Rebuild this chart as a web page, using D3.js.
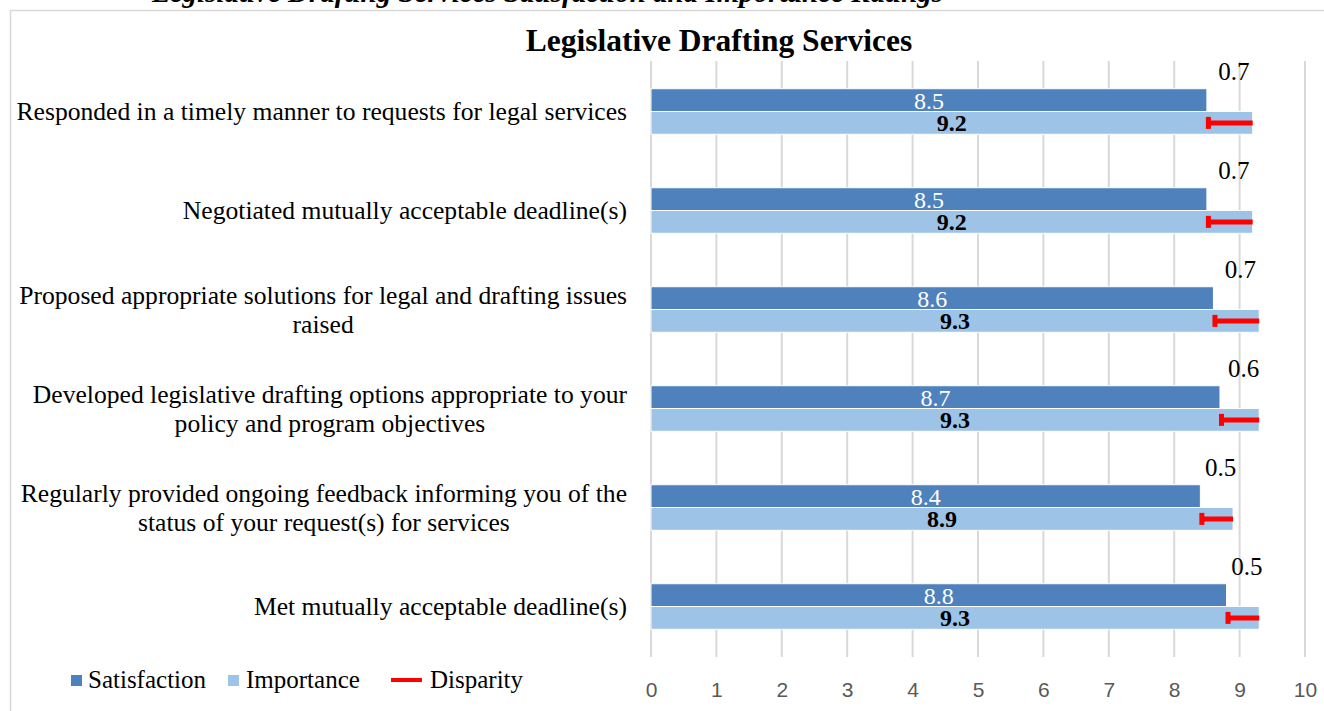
<!DOCTYPE html>
<html>
<head>
<meta charset="utf-8">
<script src="https://cdn.jsdelivr.net/npm/d3@7"></script>
<style>
  html, body { margin: 0; padding: 0; background: #ffffff; }
  svg { display: block; }
</style>
</head>
<body>
<svg id="chart" width="1324" height="711"></svg>
<script>
// ---------- data ----------
const categories = [
  "Responded in a timely manner to requests for legal services",
  "Negotiated mutually acceptable deadline(s)",
  "Proposed appropriate solutions for legal and drafting issues\nraised",
  "Developed legislative drafting options appropriate to your\npolicy and program objectives",
  "Regularly provided ongoing feedback informing you of the\nstatus of your request(s) for services",
  "Met mutually acceptable deadline(s)"
];
const satisfaction = [8.5, 8.5, 8.6, 8.7, 8.4, 8.8];
const importance   = [9.2, 9.2, 9.3, 9.3, 8.9, 9.3];
const disparity    = [0.7, 0.7, 0.7, 0.6, 0.5, 0.5];
const xTicks = [0, 1, 2, 3, 4, 5, 6, 7, 8, 9, 10];
const seriesNames = ["Satisfaction", "Importance", "Disparity"];
const chartTitle = "Legislative Drafting Services";
const captionText = "Legislative Drafting Services Satisfaction and Importance Ratings";

// ---------- styles ----------
const serif = "'Liberation Serif', 'Times New Roman', serif";
const sans = "'Liberation Sans', Arial, sans-serif";
const colSat = "#4f81bd";
const colImp = "#9dc3e6";
const colDisp = "#ff0000";
const gridCol = "#d9d9d9";

const svg = d3.select("#chart");

// caption cut at top of the image (as in the reference)
svg.append("text")
  .attr("x", 152).attr("y", 2)
  .attr("font-family", serif).attr("font-size", 29)
  .attr("font-weight", "bold").attr("font-style", "italic")
  .attr("fill", "#000")
  .text(captionText);

// chart frame
svg.append("rect")
  .attr("x", 10.5).attr("y", 10.5)
  .attr("width", 1330).attr("height", 720)
  .attr("fill", "none").attr("stroke", gridCol).attr("stroke-width", 1.5);

// title
svg.append("text")
  .attr("x", 719).attr("y", 51)
  .attr("text-anchor", "middle")
  .attr("font-family", serif).attr("font-size", 31.5).attr("font-weight", "bold")
  .attr("fill", "#000")
  .text(chartTitle);

// ---------- scales ----------
const x = d3.scaleLinear().domain([0, 10]).range([651, 1305]);
const y = d3.scaleBand().domain(d3.range(categories.length))
  .range([61, 657]).paddingInner(0.54).paddingOuter(0.28);
const sub = d3.scaleBand().domain(["sat", "imp"]).range([0, y.bandwidth()]);

// gridlines
svg.append("g").selectAll("line").data(xTicks).join("line")
  .attr("x1", d => x(d)).attr("x2", d => x(d))
  .attr("y1", 61).attr("y2", 657)
  .attr("stroke", gridCol).attr("stroke-width", 2);

// x axis tick labels
const xAxis = d3.axisBottom(x).tickValues(xTicks).tickSize(0).tickPadding(0).tickFormat(d3.format("d"));
const gx = svg.append("g").attr("transform", "translate(0,682)").call(xAxis);
gx.select(".domain").remove();
gx.selectAll("text")
  .attr("font-family", sans).attr("font-size", 21).attr("fill", "#595959")
  .attr("dy", "0.72em");

// ---------- bars ----------
const groups = svg.append("g").selectAll("g").data(categories).join("g")
  .attr("transform", (d, i) => `translate(0,${y(i)})`);

groups.append("rect")
  .attr("x", x(0)).attr("y", sub("sat"))
  .attr("width", (d, i) => x(satisfaction[i]) - x(0))
  .attr("height", sub.bandwidth())
  .attr("fill", colSat).attr("stroke", "#fff").attr("stroke-width", 1);

groups.append("rect")
  .attr("x", x(0)).attr("y", sub("imp"))
  .attr("width", (d, i) => x(importance[i]) - x(0))
  .attr("height", sub.bandwidth())
  .attr("fill", colImp).attr("stroke", "#fff").attr("stroke-width", 1);

// bar value labels
groups.append("text")
  .attr("x", (d, i) => x(satisfaction[i] / 2))
  .attr("y", sub("sat") + sub.bandwidth() / 2)
  .attr("dy", "0.35em").attr("text-anchor", "middle")
  .attr("font-family", serif).attr("font-size", 24).attr("fill", "#fff")
  .text((d, i) => satisfaction[i].toFixed(1));

groups.append("text")
  .attr("x", (d, i) => x(importance[i] / 2))
  .attr("y", sub("imp") + sub.bandwidth() / 2)
  .attr("dy", "0.35em").attr("text-anchor", "middle")
  .attr("font-family", serif).attr("font-size", 24).attr("font-weight", "bold").attr("fill", "#000")
  .text((d, i) => importance[i].toFixed(1));

// disparity bars (from satisfaction to importance)
const impMid = sub("imp") + sub.bandwidth() / 2;
groups.append("line")
  .attr("x1", (d, i) => x(satisfaction[i])).attr("x2", (d, i) => x(importance[i]))
  .attr("y1", impMid).attr("y2", impMid)
  .attr("stroke", colDisp).attr("stroke-width", 5);
groups.append("line")
  .attr("x1", (d, i) => x(satisfaction[i]) + 1.5).attr("x2", (d, i) => x(satisfaction[i]) + 1.5)
  .attr("y1", impMid - 6).attr("y2", impMid + 6)
  .attr("stroke", colDisp).attr("stroke-width", 5);

// disparity labels
groups.append("text")
  .attr("x", (d, i) => x((satisfaction[i] + importance[i]) / 2) + 4)
  .attr("y", -9)
  .attr("text-anchor", "middle")
  .attr("font-family", serif).attr("font-size", 25).attr("fill", "#000")
  .text((d, i) => disparity[i].toFixed(1));

// ---------- category labels ----------
const lineH = 29;
const catG = svg.append("g");
categories.forEach((c, i) => {
  const lines = c.split("\n");
  const cy = y(i) + y.bandwidth() / 2;
  const t = catG.append("text")
    .attr("font-family", serif).attr("font-size", 25.6).attr("fill", "#000")
    .attr("text-anchor", "middle");
  const tspans = lines.map((ln, k) => t.append("tspan")
    .attr("y", cy + (k - (lines.length - 1) / 2) * lineH)
    .attr("dy", "0.35em")
    .text(ln));
  const maxW = d3.max(tspans, s => s.node().getComputedTextLength());
  const centerX = 627 - maxW / 2;
  tspans.forEach(s => s.attr("x", centerX));
});

// ---------- legend ----------
const lg = svg.append("g");
lg.append("rect").attr("x", 71).attr("y", 675).attr("width", 11).attr("height", 11).attr("fill", colSat);
lg.append("text").attr("x", 88).attr("y", 688)
  .attr("font-family", serif).attr("font-size", 25).attr("fill", "#000").text(seriesNames[0]);
lg.append("rect").attr("x", 228).attr("y", 675).attr("width", 11).attr("height", 11).attr("fill", colImp);
lg.append("text").attr("x", 246).attr("y", 688)
  .attr("font-family", serif).attr("font-size", 25).attr("fill", "#000").text(seriesNames[1]);
lg.append("line").attr("x1", 391).attr("x2", 422).attr("y1", 680).attr("y2", 680)
  .attr("stroke", colDisp).attr("stroke-width", 4);
lg.append("text").attr("x", 430).attr("y", 688)
  .attr("font-family", serif).attr("font-size", 25).attr("fill", "#000").text(seriesNames[2]);
</script>
</body>
</html>
